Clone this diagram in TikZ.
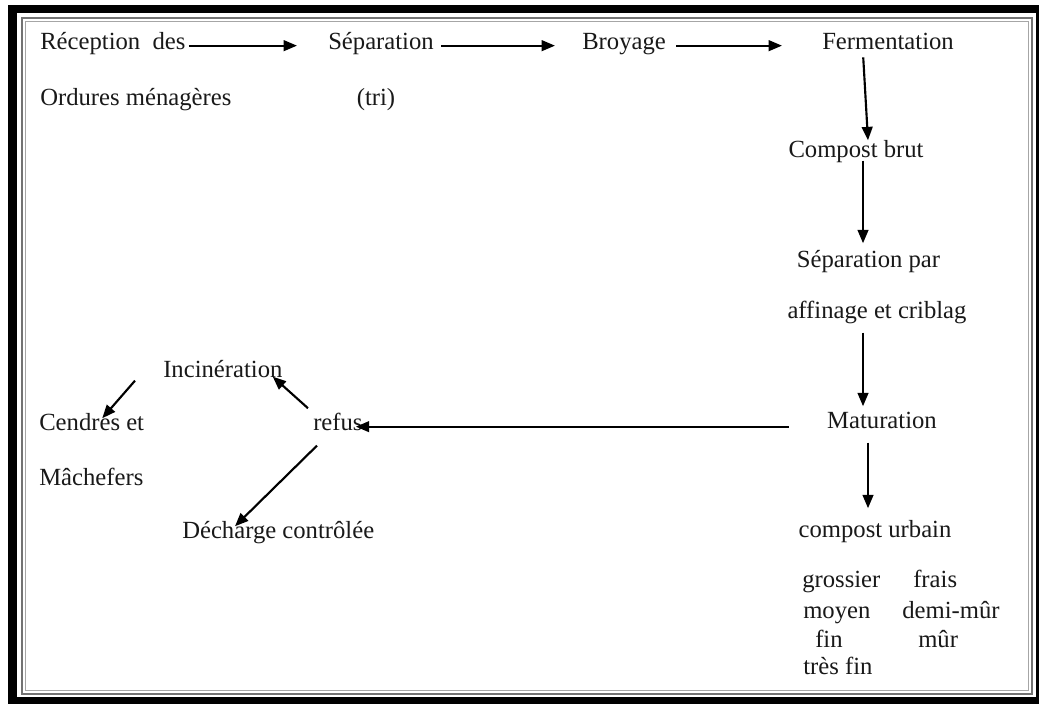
\documentclass[tikz,border=0pt]{standalone}
\usepackage{fontspec}
\setmainfont{Liberation Serif}
\usetikzlibrary{arrows.meta,calc}
\begin{document}
\begin{tikzpicture}[x=0.75pt,y=-0.75pt,
  lbl/.style={inner sep=0pt,font=\fontsize{18.5}{22}\selectfont,text=black!90,text height=0.75em,text depth=0.25em},
  arr/.style={-{Triangle[length=10pt,width=8pt]},line width=1.6pt,black}]
\useasboundingbox (0,0) rectangle (1039,704);
% frame
\fill[black] (8,5) rectangle (1039,704);
\fill[white] (17,13) rectangle (1036,697);
\draw[black!55,line width=1.3pt] (22,18) rectangle (1032,694);
\draw[black!35,line width=0.8pt] (25.5,21.5) rectangle (1028.5,690.5);
% top row
\node[lbl,anchor=base west] (recep) at (40,49) {Réception\ \ des};
\node[lbl,anchor=base west] (ordures) at (40,105) {Ordures ménagères};
\node[lbl,anchor=base west] (sep) at (328,49) {Séparation};
\node[lbl,anchor=base] (tri) at (376,105) {(tri)};
\node[lbl,anchor=base west] (broy) at (582,49) {Broyage};
\node[lbl,anchor=base west] (ferm) at (822,49) {Fermentation};
% right column
\node[lbl,anchor=base] (cbrut) at (856,157) {Compost brut};
\node[lbl,anchor=base] (sep2) at (868.5,267) {Séparation par};
\node[lbl,anchor=base] (affin) at (877,318) {affinage et criblag};
\node[lbl,anchor=base] (matur) at (882,428) {Maturation};
\node[lbl,anchor=base] (curb) at (875,537) {compost urbain};
\node[lbl,anchor=base west] (gros) at (802,587) {grossier};
\node[lbl,anchor=base west] (frais) at (913,587) {frais};
\node[lbl,anchor=base west] (moyen) at (803,618) {moyen};
\node[lbl,anchor=base west] (demi) at (902,618) {demi-mûr};
\node[lbl,anchor=base west] (fin) at (815,647) {fin};
\node[lbl,anchor=base west] (mur) at (918,647) {mûr};
\node[lbl,anchor=base west] (tfin) at (803,674) {très fin};
% left part
\node[lbl,anchor=base west] (incin) at (163,377) {Incinération};
\node[lbl,anchor=base west] (cendres) at (39,430) {Cendres et};
\node[lbl,anchor=base west] (mach) at (39,485) {Mâchefers};
\node[lbl,anchor=base west] (refus) at (313,430) {refus};
\node[lbl,anchor=base west] (dech) at (182,538) {Décharge contrôlée};
% arrows
\draw[arr] ($(recep.east)+(3,0)$) -- ($(sep.west)+(-31,0)$);
\draw[arr] ($(sep.east)+(7,0)$) -- ($(broy.west)+(-27,0)$);
\draw[arr] ($(broy.east)+(10,0)$) -- ($(ferm.west)+(-40,0)$);
\draw[arr] ($(ferm.south)+(-24.8,4.8)$) -- ($(cbrut.north)+(12,-6.5)$);
\draw[arr] ($(cbrut.south)+(7,0)$) -- ($(sep2.north)+(-5.5,-13.5)$);
\draw[arr] ($(affin.south)+(-14,11)$) -- ($(matur.north)+(-19,-11.5)$);
\draw[arr] ($(matur.south)+(-14,11)$) -- ($(curb.north)+(-7,-18.5)$);
\draw[arr] ($(matur.west)+(-38,2)$) -- ($(refus.east)+(-7,0)$);
\draw[arr] ($(refus.north west)+(-5,-11.5)$) -- ($(incin.south east)+(-10,-4)$);
\draw[arr] ($(incin.west)+(-28,7)$) -- ($(cendres.north)+(10.6,-1.5)$);
\draw[arr] ($(refus.south west)+(4,12)$) -- ($(dech.north west)+(53,-1.5)$);
\end{tikzpicture}
\end{document}
